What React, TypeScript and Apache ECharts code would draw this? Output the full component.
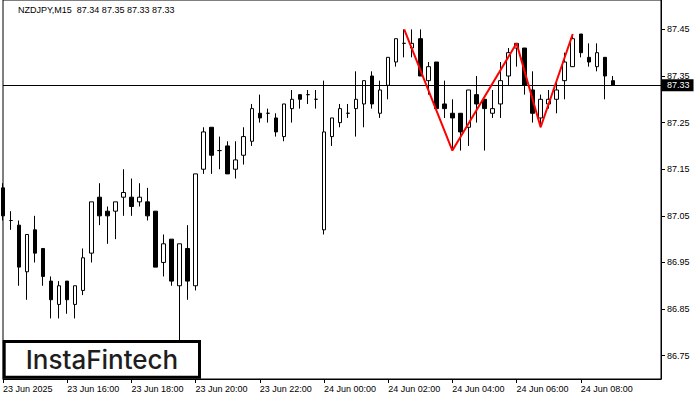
import React, { useEffect, useRef } from "react";
import * as echarts from "echarts";

// M15 candles, NZDJPY, starting 23 Jun 2025 14:00
const opens = [
  87.11, 87.04, 87.03, 86.93, 87.02, 86.98, 86.91, 86.86, 86.91, 86.86,
  86.89, 86.97, 87.09, 87.06, 87.06, 87.09, 87.09, 87.08, 87.08, 87.06,
  86.95, 87.0, 86.9, 86.98, 86.9, 87.15, 87.24, 87.19, 87.2, 87.15,
  87.18, 87.21, 87.27, 87.27, 87.26, 87.22, 87.28, 87.31, 87.31, 87.3,
  87.02, 87.22, 87.25, 87.27, 87.28, 87.29, 87.35, 87.27, 87.33, 87.38,
  87.42, 87.41, 87.43, 87.34, 87.38, 87.29, 87.27, 87.27, 87.24, 87.31,
  87.3, 87.27, 87.29, 87.35, 87.41, 87.41, 87.32, 87.26, 87.29, 87.3,
  87.34, 87.37, 87.44, 87.39, 87.37, 87.39, 87.34,
];
const closes = [
  87.05, 87.04, 86.94, 87.01, 86.97, 86.92, 86.87, 86.9, 86.87, 86.9,
  86.96, 87.08, 87.05, 87.05, 87.08, 87.1, 87.07, 87.09, 87.05, 86.94,
  86.99, 86.91, 86.99, 86.91, 87.14, 87.23, 87.18, 87.19, 87.14, 87.17,
  87.22, 87.28, 87.26, 87.27, 87.23, 87.29, 87.3, 87.3, 87.31, 87.3,
  87.23, 87.26, 87.28, 87.27, 87.3, 87.34, 87.29, 87.32, 87.39, 87.43,
  87.42, 87.42, 87.35, 87.37, 87.28, 87.28, 87.26, 87.23, 87.32, 87.29,
  87.28, 87.28, 87.34, 87.4, 87.42, 87.33, 87.27, 87.3, 87.3, 87.32,
  87.38, 87.43, 87.4, 87.38, 87.4, 87.35, 87.33,
];
const lows = [
  87.04, 87.02, 86.9, 86.87, 86.95, 86.9, 86.83, 86.83, 86.84, 86.83,
  86.88, 86.95, 87.03, 86.99, 87.0, 87.05, 87.05, 87.07, 87.04, 86.94,
  86.92, 86.9, 86.78, 86.87, 86.89, 87.14, 87.14, 87.15, 87.14, 87.13,
  87.16, 87.2, 87.25, 87.25, 87.22, 87.21, 87.25, 87.28, 87.29, 87.28,
  87.01, 87.2, 87.24, 87.26, 87.22, 87.24, 87.28, 87.26, 87.3, 87.37,
  87.39, 87.39, 87.35, 87.31, 87.28, 87.26, 87.19, 87.19, 87.2, 87.25,
  87.19, 87.26, 87.26, 87.33, 87.37, 87.31, 87.25, 87.24, 87.28, 87.27,
  87.3, 87.37, 87.39, 87.37, 87.36, 87.3, 87.33,
];
const highs = [
  87.12, 87.06, 87.04, 87.01, 87.05, 86.98, 86.92, 86.91, 86.91, 86.9,
  86.98, 87.08, 87.12, 87.07, 87.08, 87.15, 87.13, 87.12, 87.11, 87.06,
  87.01, 87.0, 86.99, 87.03, 87.14, 87.24, 87.24, 87.22, 87.21, 87.21,
  87.24, 87.29, 87.31, 87.28, 87.27, 87.29, 87.32, 87.31, 87.32, 87.32,
  87.34, 87.26, 87.29, 87.29, 87.36, 87.34, 87.36, 87.34, 87.39, 87.43,
  87.45, 87.45, 87.45, 87.38, 87.38, 87.34, 87.3, 87.27, 87.32, 87.35,
  87.3, 87.32, 87.38, 87.41, 87.42, 87.41, 87.36, 87.31, 87.32, 87.34,
  87.4, 87.44, 87.44, 87.42, 87.42, 87.39, 87.35,
];

const tickLabels = [
  "23 Jun 2025", "23 Jun 16:00", "23 Jun 18:00", "23 Jun 20:00", "23 Jun 22:00",
  "24 Jun 00:00", "24 Jun 02:00", "24 Jun 04:00", "24 Jun 06:00", "24 Jun 08:00",
];
const priceTicks = [86.75, 86.85, 86.95, 87.05, 87.15, 87.25, 87.35, 87.45];
const patternIndex = [50, 56, 64, 67, 71];
const patternPrice = [87.45, 87.19, 87.42, 87.24, 87.44];
const bidPrice = 87.33;
const titleText = "NZDJPY,M15  87.34 87.35 87.33 87.33";

const SLOTS = 83;
const BARS_PER_LABEL = 8;

function slotName(i: number): string {
  const m = 14 * 60 + 15 * i;
  const day = 23 + Math.floor(m / 1440);
  const mm = m % 1440;
  const h = String(Math.floor(mm / 60)).padStart(2, "0");
  const mi = String(mm % 60).padStart(2, "0");
  return `${day} Jun ${h}:${mi}`;
}

export default function App() {
  const ref = useRef<HTMLDivElement>(null);
  useEffect(() => {
    if (!ref.current) return;
    const chart = echarts.init(ref.current, undefined, { renderer: "svg" });
    const categories = Array.from({ length: SLOTS }, (_, i) => slotName(i));
    const candles = opens.map((o, i) => [o, closes[i], lows[i], highs[i]]);
    const pattern = categories.map((_, i) => {
      const k = patternIndex.indexOf(i);
      return k >= 0 ? patternPrice[k] : null;
    });
    const lastTickIdx = (tickLabels.length - 1) * BARS_PER_LABEL;
    const font = "Liberation Sans";

    chart.setOption({
      animation: false,
      backgroundColor: "#fff",
      grid: {
        left: 3,
        right: 39,
        top: -1,
        bottom: 21,
        show: true,
        borderColor: "#000",
        borderWidth: 1,
        backgroundColor: "#fff",
      },
      xAxis: {
        type: "category",
        data: categories,
        boundaryGap: false,
        axisLine: { show: true, lineStyle: { color: "#000", width: 1 } },
        axisTick: {
          show: true,
          length: 4,
          interval: (i: number) => i % BARS_PER_LABEL === 0 && i <= lastTickIdx,
          lineStyle: { color: "#000" },
        },
        axisLabel: {
          show: true,
          interval: (i: number) => i % BARS_PER_LABEL === 0 && i <= lastTickIdx,
          formatter: (_v: string, i: number) => tickLabels[i / BARS_PER_LABEL] ?? "",
          align: "left",
          margin: 5,
          color: "#000",
          fontFamily: font,
          fontSize: 9,
        },
        splitLine: { show: false },
      },
      yAxis: {
        type: "value",
        position: "right",
        min: 86.7,
        max: 87.513,
        axisLine: { show: true, lineStyle: { color: "#000", width: 1 } },
        axisTick: {
          show: true,
          length: 4,
          customValues: priceTicks,
          lineStyle: { color: "#000" },
        },
        axisLabel: {
          show: true,
          customValues: priceTicks,
          formatter: (v: number) => v.toFixed(2),
          margin: 6,
          color: "#000",
          fontFamily: font,
          fontSize: 9,
        },
        splitLine: { show: false },
      },
      series: [
        {
          type: "candlestick",
          data: candles,
          barWidth: 4,
          itemStyle: {
            color: "#fff",
            color0: "#000",
            borderColor: "#000",
            borderColor0: "#000",
            borderColorDoji: "#000",
            borderWidth: 1,
          },
          markLine: {
            silent: true,
            symbol: ["none", "none"],
            lineStyle: { color: "#000", width: 1, type: "solid" },
            label: {
              show: true,
              position: "end",
              distance: 0,
              formatter: bidPrice.toFixed(2),
              color: "#fff",
              backgroundColor: "#000",
              padding: [1, 4, 1, 6],
              lineHeight: 10,
              fontFamily: font,
              fontSize: 9,
            },
            data: [{ yAxis: bidPrice }],
          },
        },
        {
          type: "line",
          data: pattern,
          connectNulls: true,
          symbol: "none",
          lineStyle: { color: "#ff0000", width: 2 },
          z: 5,
        },
      ],
      graphic: [
        {
          type: "text",
          left: 18,
          top: 5,
          style: { text: titleText, fill: "#000", font: `9px "${font}"` },
          z: 10,
        },
        {
          type: "rect",
          shape: { x: 4.2, y: 341.5, width: 195.3, height: 35.7 },
          style: { fill: "#fff", stroke: "#000", lineWidth: 3 },
          z: 10,
        },
        {
          type: "text",
          x: 102,
          y: 359,
          style: {
            text: "InstaFintech",
            fill: "#1e1e1e",
            font: '500 26px "Inter"',
            align: "center",
            verticalAlign: "middle",
          },
          z: 11,
        },
      ],
    });
    return () => chart.dispose();
  }, []);
  return (
    <div
      ref={ref}
      style={{ position: "fixed", left: 0, top: 0, width: 700, height: 400 }}
    />
  );
}
